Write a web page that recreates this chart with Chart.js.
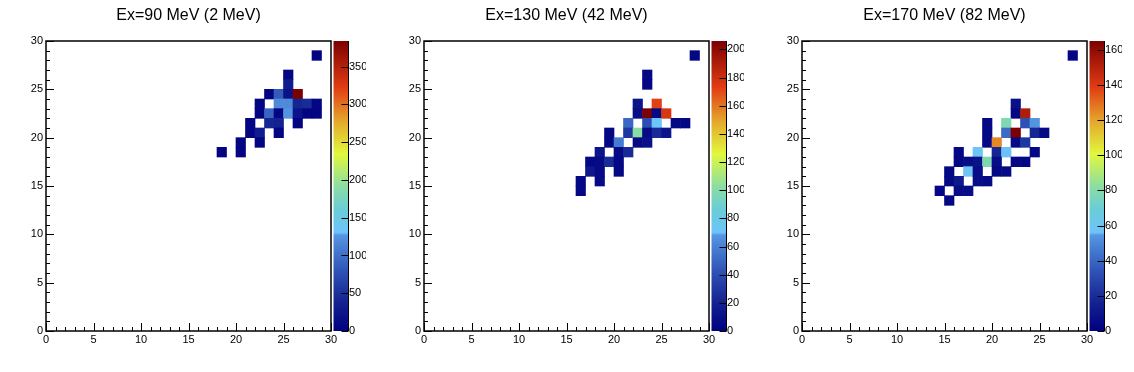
<!DOCTYPE html>
<html>
<head>
<meta charset="utf-8">
<script src="https://cdn.jsdelivr.net/npm/chart.js@4.4.1/dist/chart.umd.min.js"></script>
<style>
    html, body { margin: 0; padding: 0; background: #fff; }
    body { width: 1134px; height: 372px; position: relative; overflow: hidden; }
    canvas { position: absolute; top: 0; }
</style>
</head>
<body>
<canvas id="pad1" width="355" height="372" style="left:11px"></canvas>
<canvas id="pad2" width="355" height="372" style="left:389px"></canvas>
<canvas id="pad3" width="355" height="372" style="left:767px"></canvas>
<script>
(function () {
    "use strict";

    const titles = ["Ex=90 MeV (2 MeV)", "Ex=130 MeV (42 MeV)", "Ex=170 MeV (82 MeV)"];
    const axisTicks = [0, 5, 10, 15, 20, 25, 30];
    const zMax = [384, 206, 165];
    const zTicks = [
        [0, 50, 100, 150, 200, 250, 300, 350],
        [0, 20, 40, 60, 80, 100, 120, 140, 160, 180, 200],
        [0, 20, 40, 60, 80, 100, 120, 140, 160],
    ];

    // filled bins: [x bin, y bin, counts]
    const cells90 = [
        [28, 28, 4],
        [25, 26, 6], [25, 25, 30],
        [23, 24, 6], [24, 24, 85], [25, 24, 20], [26, 24, 384],
        [22, 23, 5], [24, 23, 118], [25, 23, 118], [26, 23, 40], [27, 23, 45], [28, 23, 8],
        [22, 22, 6], [23, 22, 92], [24, 22, 8], [25, 22, 125], [26, 22, 22], [27, 22, 6], [28, 22, 5],
        [21, 21, 6], [23, 21, 42], [24, 21, 38], [26, 21, 5],
        [21, 20, 6], [22, 20, 32], [24, 20, 6],
        [20, 19, 6], [22, 19, 5],
        [18, 18, 4], [20, 18, 5],
    ];
    const cells130 = [
        [28, 28, 4],
        [23, 26, 5], [23, 25, 5],
        [22, 23, 12], [24, 23, 172],
        [22, 22, 8], [23, 22, 206], [24, 22, 6], [25, 22, 176],
        [21, 21, 50], [23, 21, 40], [24, 21, 72], [26, 21, 5], [27, 21, 5],
        [19, 20, 5], [21, 20, 30], [22, 20, 102], [23, 20, 6], [24, 20, 24], [25, 20, 12],
        [19, 19, 5], [20, 19, 58], [22, 19, 6], [23, 19, 10],
        [18, 18, 12], [20, 18, 6], [21, 18, 24],
        [17, 17, 5], [18, 17, 6], [19, 17, 25], [20, 17, 5],
        [17, 16, 14], [18, 16, 6], [20, 16, 5],
        [16, 15, 5], [18, 15, 6],
        [16, 14, 5],
    ];
    const cells170 = [
        [28, 28, 3],
        [22, 23, 8],
        [22, 22, 4], [23, 22, 152],
        [19, 21, 4], [21, 21, 78], [23, 21, 33], [24, 21, 54],
        [19, 20, 4], [21, 20, 41], [22, 20, 165], [24, 20, 18], [25, 20, 5],
        [19, 19, 4], [20, 19, 125], [22, 19, 5], [23, 19, 24],
        [16, 18, 4], [18, 18, 58], [20, 18, 18], [21, 18, 56], [24, 18, 4],
        [16, 17, 4], [17, 17, 6], [18, 17, 9], [19, 17, 78], [20, 17, 6], [22, 17, 4], [23, 17, 4],
        [15, 16, 4], [17, 16, 58], [18, 16, 6], [20, 16, 4], [21, 16, 5],
        [15, 15, 4], [16, 15, 12], [18, 15, 6], [19, 15, 5],
        [14, 14, 4], [16, 14, 6], [17, 14, 6],
        [15, 13, 4],
    ];

    // palette
    const paletteStops = [
        [0.00, [0, 0, 128]],
        [0.10, [20, 35, 145]],
        [0.20, [45, 80, 180]],
        [0.33, [85, 150, 225]],
        [0.34, [110, 195, 250]],
        [0.42, [105, 205, 215]],
        [0.50, [140, 222, 160]],
        [0.61, [225, 248, 60]],
        [0.72, [228, 170, 45]],
        [0.84, [225, 60, 20]],
        [1.00, [125, 0, 0]],
    ];

    Chart.defaults.font.family = "'Liberation Sans', Arial, Helvetica, sans-serif";
    Chart.defaults.color = "#000";

    function rgb(c) {
        return "rgb(" + c.map(Math.round).join(",") + ")";
    }

    function paletteColor(f) {
        f = Math.max(0, Math.min(1, f));
        for (let k = 1; k < paletteStops.length; k++) {
            const [p0, c0] = paletteStops[k - 1];
            const [p1, c1] = paletteStops[k];
            if (f <= p1) {
                const t = (f - p0) / (p1 - p0);
                return rgb(c0.map((c, n) => c + (c1[n] - c) * t));
            }
        }
        return rgb(paletteStops[paletteStops.length - 1][1]);
    }

    // frame, inward ticks and the colour bar, ROOT style
    const rootFrame = {
        id: "rootFrame",
        afterDraw(chart) {
            const { ctx, chartArea: a, scales } = chart;
            const { x, y, z } = scales;
            ctx.save();

            const bx = a.right + 2.5;
            const bw = 15;
            const g = ctx.createLinearGradient(0, z.bottom, 0, z.top);
            paletteStops.forEach((s) => g.addColorStop(s[0], rgb(s[1])));
            ctx.fillStyle = g;
            ctx.fillRect(bx, z.top, bw, z.bottom - z.top);

            ctx.strokeStyle = "#000";
            ctx.lineWidth = 1;
            ctx.beginPath();
            ctx.moveTo(bx + bw, z.top);
            ctx.lineTo(bx + bw, z.bottom);
            z.ticks.forEach((t) => {
                const py = Math.round(z.getPixelForValue(t.value)) + 0.5;
                ctx.moveTo(bx + bw, py);
                ctx.lineTo(bx + bw - 7, py);
            });
            ctx.stroke();

            ctx.lineWidth = 1.5;
            ctx.strokeRect(a.left, a.top, a.right - a.left, a.bottom - a.top);

            ctx.lineWidth = 1;
            ctx.beginPath();
            for (let v = 0; v <= 30; v++) {
                const len = v % 5 === 0 ? 8 : 4;
                const px = Math.round(x.getPixelForValue(v)) + 0.5;
                ctx.moveTo(px, a.bottom);
                ctx.lineTo(px, a.bottom - len);
                const py = Math.round(y.getPixelForValue(v)) + 0.5;
                ctx.moveTo(a.left, py);
                ctx.lineTo(a.left + len, py);
            }
            ctx.stroke();
            ctx.restore();
        },
    };

    function makePad(id, title, cells, zmax, zticks) {
        const ctx = document.getElementById(id).getContext("2d");
        const tickFont = { size: 11 };
        const noGrid = { display: false, drawTicks: false };

        return new Chart(ctx, {
            type: "bar",
            data: {
                datasets: [
                    {
                        data: cells.map((c) => ({ x: c[0] + 0.5, y: [c[1], c[1] + 1] })),
                        backgroundColor: cells.map((c) => paletteColor(c[2] / zmax)),
                        borderWidth: 0,
                        barPercentage: 1,
                        categoryPercentage: 1,
                        grouped: false,
                        xAxisID: "x",
                        yAxisID: "y",
                    },
                ],
            },
            options: {
                responsive: false,
                animation: false,
                events: [],
                layout: { padding: 0 },
                plugins: {
                    legend: { display: false },
                    tooltip: { enabled: false },
                    title: {
                        display: true,
                        text: title,
                        color: "#000",
                        font: { size: 16, weight: "normal" },
                        padding: { top: 6, bottom: 15.8 },
                    },
                },
                scales: {
                    x: {
                        type: "linear",
                        min: 0,
                        max: 30,
                        offset: false,
                        grid: noGrid,
                        border: { display: false },
                        afterBuildTicks: (s) => { s.ticks = axisTicks.map((v) => ({ value: v })); },
                        afterFit: (s) => { s.height = 41; },
                        ticks: { padding: 2, maxRotation: 0, autoSkip: false, font: tickFont },
                    },
                    y: {
                        type: "linear",
                        min: 0,
                        max: 30,
                        grid: noGrid,
                        border: { display: false },
                        afterBuildTicks: (s) => { s.ticks = axisTicks.map((v) => ({ value: v })); },
                        afterFit: (s) => { s.width = 35; },
                        ticks: { padding: 3, autoSkip: false, font: tickFont },
                    },
                    z: {
                        type: "linear",
                        position: "right",
                        min: 0,
                        max: zmax,
                        grid: noGrid,
                        border: { display: false },
                        afterBuildTicks: (s) => { s.ticks = zticks.map((v) => ({ value: v })); },
                        afterFit: (s) => { s.width = 35; },
                        ticks: { padding: 18, autoSkip: false, font: tickFont },
                    },
                },
            },
            plugins: [rootFrame],
        });
    }

    makePad("pad1", titles[0], cells90, zMax[0], zTicks[0]);
    makePad("pad2", titles[1], cells130, zMax[1], zTicks[1]);
    makePad("pad3", titles[2], cells170, zMax[2], zTicks[2]);
})();
</script>
</body>
</html>
